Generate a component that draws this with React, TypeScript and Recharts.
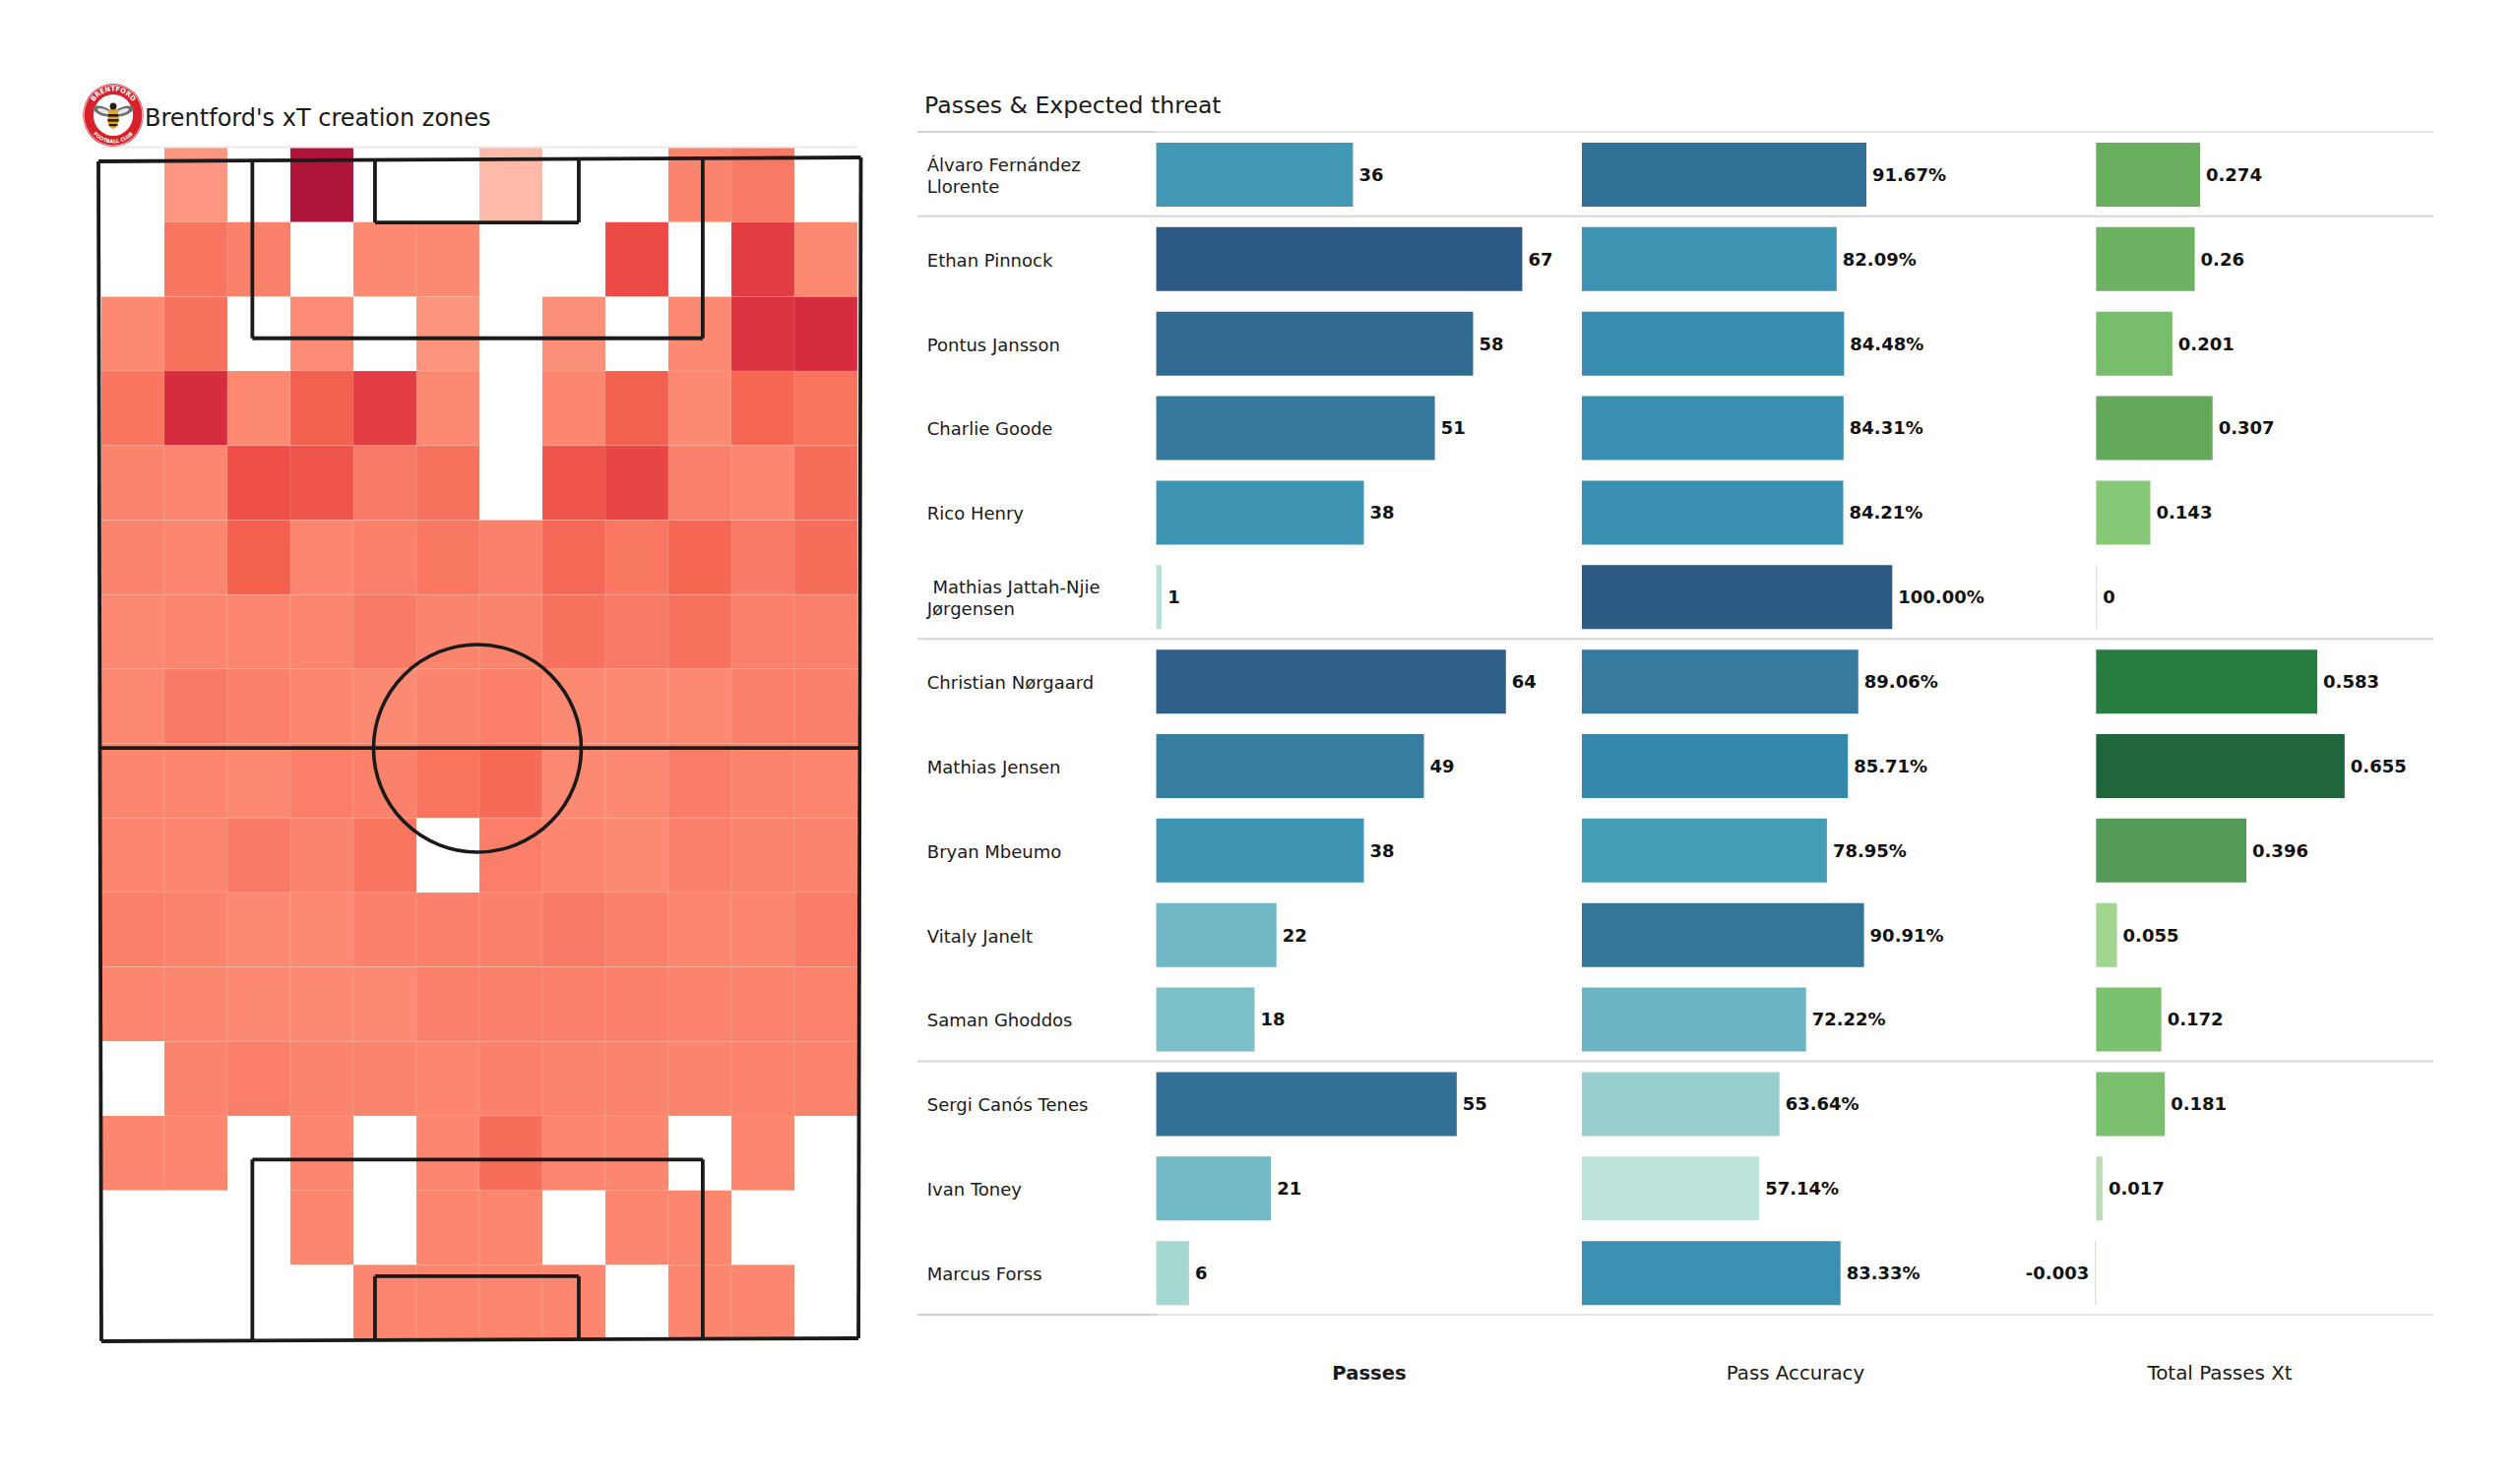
import React from "react";
import {
  BarChart, Bar, Cell, XAxis, YAxis, LabelList, ComposedChart,
  ReferenceLine, ReferenceDot,
} from "recharts";

/* ---------- table data ---------- */
const players = [
  "Álvaro Fernández\nLlorente", "Ethan Pinnock", "Pontus Jansson", "Charlie Goode", "Rico Henry",
  " Mathias Jattah-Njie\nJørgensen", "Christian Nørgaard", "Mathias Jensen", "Bryan Mbeumo",
  "Vitaly Janelt", "Saman Ghoddos", "Sergi Canós Tenes", "Ivan Toney", "Marcus Forss",
];
const passes = [36, 67, 58, 51, 38, 1, 64, 49, 38, 22, 18, 55, 21, 6];
const passAccuracy = [91.67, 82.09, 84.48, 84.31, 84.21, 100, 89.06, 85.71, 78.95, 90.91, 72.22, 63.64, 57.14, 83.33];
const totalPassesXt = [0.274, 0.26, 0.201, 0.307, 0.143, 0, 0.583, 0.655, 0.396, 0.055, 0.172, 0.181, 0.017, -0.003];
const groupBreaks = [1, 6, 11];

/* ---------- heat map data: zone intensity, top row first, 0 = no value ---------- */
const heatRow00 = [0, 20, 0, 100, 0, 0, 10, 0, 0, 30, 38, 0];
const heatRow01 = [0, 40, 33, 0, 25, 26, 0, 0, 58, 0, 65, 25];
const heatRow02 = [25, 42, 0, 24, 0, 21, 0, 23, 0, 25, 68, 70];
const heatRow03 = [40, 70, 26, 50, 65, 25, 0, 28, 50, 26, 48, 41];
const heatRow04 = [30, 28, 56, 54, 38, 42, 0, 54, 60, 33, 28, 44];
const heatRow05 = [30, 28, 50, 28, 34, 39, 33, 47, 39, 48, 37, 45];
const heatRow06 = [26, 28, 28, 28, 38, 30, 30, 42, 38, 42, 34, 34];
const heatRow07 = [25, 38, 33, 28, 26, 30, 35, 25, 25, 25, 33, 33];
const heatRow08 = [28, 28, 25, 35, 33, 41, 46, 26, 25, 36, 30, 28];
const heatRow09 = [28, 28, 38, 30, 40, 0, 35, 28, 25, 34, 30, 30];
const heatRow10 = [34, 30, 25, 25, 33, 33, 33, 37, 34, 28, 28, 36];
const heatRow11 = [28, 27, 25, 25, 25, 34, 34, 34, 33, 32, 32, 32];
const heatRow12 = [0, 30, 35, 30, 30, 28, 33, 30, 30, 30, 32, 32];
const heatRow13 = [28, 28, 0, 28, 0, 28, 45, 28, 28, 0, 28, 0];
const heatRow14 = [0, 0, 0, 28, 0, 28, 28, 0, 28, 28, 0, 0];
const heatRow15 = [0, 0, 0, 0, 28, 28, 28, 28, 0, 28, 28, 0];
const heatRows = [
  heatRow00, heatRow01, heatRow02, heatRow03, heatRow04, heatRow05, heatRow06, heatRow07,
  heatRow08, heatRow09, heatRow10, heatRow11, heatRow12, heatRow13, heatRow14, heatRow15,
];

/* ---------- colour scales ---------- */
type Stop = [number, string];
const heatStops: Stop[] = [
  [10, "#ffb9a9"], [20, "#fd9680"], [25, "#fc8a72"], [28, "#fc866e"], [30, "#fb846c"], [33, "#fb816a"],
  [35, "#fa7e68"], [38, "#f97a64"], [40, "#f8765f"], [43, "#f7705a"], [46, "#f56b58"], [50, "#f4604e"],
  [54, "#ef5549"], [58, "#ec4a47"], [60, "#e84646"], [65, "#e33c42"], [70, "#d62c3e"], [100, "#ae1439"],
];
const blueStops: Stop[] = [
  [0, "#bce4da"], [0.08, "#a8d9d3"], [0.25, "#80c2ca"], [0.32, "#72b9c6"], [0.52, "#429cb6"],
  [0.56, "#3f96b3"], [0.64, "#378eb0"], [0.74, "#367c9f"], [0.82, "#327097"], [0.86, "#316b92"], [1, "#2c5a85"],
];
const greenStops: Stop[] = [
  [0, "#d5dfd2"], [0.017, "#bcdcb6"], [0.055, "#a0d68f"], [0.143, "#87c877"], [0.172, "#7bc26f"],
  [0.201, "#77bd6b"], [0.26, "#6bb161"], [0.307, "#63a85b"], [0.396, "#529a56"], [0.583, "#267b41"],
  [0.655, "#21663a"],
];
function scaleColor(stops: Stop[], v: number): string {
  if (v <= stops[0][0]) return stops[0][1];
  for (let i = 1; i < stops.length; i++) {
    if (v <= stops[i][0]) {
      const [a, ca] = stops[i - 1];
      const [b, cb] = stops[i];
      const t = (v - a) / (b - a);
      const ch = (c: string, o: number) => parseInt(c.slice(o, o + 2), 16);
      const m = [1, 3, 5].map((o) => Math.round(ch(ca, o) + (ch(cb, o) - ch(ca, o)) * t));
      return `rgb(${m[0]},${m[1]},${m[2]})`;
    }
  }
  return stops[stops.length - 1][1];
}

/* ---------- pitch furniture, in pitch units (80 wide, 120 long) ---------- */
type Seg = [[number, number], [number, number]];
const pitchSegments: Seg[] = [
  [[0, 0.4], [0.31, 120.2]], [[79.95, 0], [79.7, 119.9]], [[0, 0.4], [79.95, 0]], [[0.31, 120.2], [79.7, 119.9]],
  [[0.1, 59.96], [79.85, 59.96]],
  [[16.14, 0.3], [16.14, 18.36]], [[63.37, 0.1], [63.37, 18.36]], [[16.14, 18.36], [63.37, 18.36]],
  [[29, 0.3], [29, 6.6]], [[50.37, 0.2], [50.37, 6.6]], [[29, 6.6], [50.37, 6.6]],
  [[16.14, 101.75], [16.14, 120.1]], [[63.37, 101.75], [63.37, 120]], [[16.14, 101.75], [63.37, 101.75]],
  [[29, 113.6], [29, 120.1]], [[50.37, 113.6], [50.37, 120]], [[29, 113.6], [50.37, 113.6]],
];
const pitchDomain = [{ x: 0, y: 0 }, { x: 80, y: 120 }];

const FONT = "'DejaVu Sans', sans-serif";
const rows = players.map((player, i) => ({
  player, passes: passes[i], accuracy: passAccuracy[i], xt: totalPassesXt[i],
}));
const heatData = heatRows[0].map((_, col) => {
  const o: Record<string, number> = { col };
  heatRows.forEach((_r, r) => { o[`r${r}`] = 1; });
  return o;
});

function NameTick(props: any) {
  const lines = String(props.payload.value).split("\n");
  const y = props.y;
  const start = lines.length === 1 ? 0 : -11;
  return (
    <text x={9.8} y={y} fontFamily={FONT} fontSize={18} fill="#1a1a1a" dominantBaseline="central" style={{ whiteSpace: "pre" }}>
      {lines.map((l, i) => (
        <tspan key={i} x={9.8} y={y + start + i * 22} style={{ whiteSpace: "pre" }}>{l}</tspan>
      ))}
    </text>
  );
}

const BAND_TOP = 135;
const BAND_H = 1202;
const labelProps = { fontFamily: FONT, fontSize: 18, fontWeight: 700, fill: "#111" };

function Logo() {
  return (
    <svg width={70} height={70} viewBox="-35 -35 70 70" style={{ position: "absolute", left: 79.5, top: 82 }}>
      <g transform="scale(0.96,1)">
        <defs>
          <path id="lgTop" d="M -24.5 0 A 24.5 24.5 0 0 1 24.5 0" />
          <path id="lgBot" d="M -28.5 0 A 28.5 28.5 0 0 0 28.5 0" />
        </defs>
        <circle r={32} fill="#d8212b" />
        <circle r={31} fill="none" stroke="#fff" strokeWidth={0.7} />
        <circle r={21} fill="#fff" />
        <text fontFamily={FONT} fontSize={7} fontWeight={700} fill="#fff" textAnchor="middle">
          <textPath href="#lgTop" startOffset="50%">BRENTFORD</textPath>
        </text>
        <text fontFamily={FONT} fontSize={5.2} fontWeight={700} fill="#fff" textAnchor="middle">
          <textPath href="#lgBot" startOffset="50%">FOOTBALL CLUB</textPath>
        </text>
        <ellipse cx={-11} cy={-4} rx={11} ry={4.5} fill="#6f6f6f" transform="rotate(18 -11 -4)" />
        <ellipse cx={11} cy={-4} rx={11} ry={4.5} fill="#6f6f6f" transform="rotate(-18 11 -4)" />
        <ellipse cx={-10} cy={-4} rx={7} ry={2.2} fill="#e8e8e8" transform="rotate(18 -10 -4)" />
        <ellipse cx={10} cy={-4} rx={7} ry={2.2} fill="#e8e8e8" transform="rotate(-18 10 -4)" />
        <ellipse cx={0} cy={3} rx={6} ry={11} fill="#e0a526" />
        <rect x={-5.5} y={-1} width={11} height={2.6} fill="#2a2016" />
        <rect x={-5.8} y={4} width={11.6} height={2.6} fill="#2a2016" />
        <rect x={-4.6} y={9} width={9.2} height={2.2} fill="#2a2016" />
        <circle cy={-9} r={3.6} fill="#2a2016" />
      </g>
    </svg>
  );
}

const abs = (left: number, top: number): React.CSSProperties => ({ position: "absolute", left, top });
const textBase: React.CSSProperties = { position: "absolute", fontFamily: FONT, color: "#1a1a1a", whiteSpace: "pre", lineHeight: 1 };

export default function App() {
  const sepData = [{ x: 0, y: 0 }, { x: 1, y: 14 }];
  return (
    <div style={{ position: "absolute", left: 0, top: 0, width: 2560, height: 1504, background: "#fff", overflow: "hidden", fontFamily: FONT }}>
      {/* heat map */}
      <div style={abs(103, 150)}>
        <BarChart width={768} height={1211} data={heatData} margin={{ top: 0, right: 0, bottom: 0, left: 0 }} barCategoryGap={0}>
          <XAxis dataKey="col" type="category" hide />
          <YAxis type="number" domain={[0, 16]} reversed hide />
          {heatRows.map((row, r) => (
            <Bar key={r} dataKey={`r${r}`} stackId="heat" isAnimationActive={false} strokeWidth={1} stroke="#ffffff" strokeOpacity={0.1}>
              {row.map((v, c) => (
                <Cell key={c} fill={v === 0 ? "#ffffff" : scaleColor(heatStops, v)} stroke={v === 0 ? "none" : "#ffffff"} />
              ))}
            </Bar>
          ))}
        </BarChart>
      </div>
      {/* pitch lines */}
      <div style={abs(96, 146)}>
        <ComposedChart width={783} height={1219} data={pitchDomain} margin={{ top: 14, right: 4, bottom: 4, left: 4 }}>
          <XAxis dataKey="x" type="number" domain={[0, 80]} hide />
          <YAxis dataKey="y" type="number" domain={[0, 120]} reversed hide />
          <ReferenceLine
            segment={[{ x: 0.3, y: -1.05 }, { x: 79.6, y: -1.05 }]}
            stroke="#e9e9e9" strokeWidth={2} ifOverflow="visible"
          />
          {pitchSegments.map((s, i) => (
            <ReferenceLine
              key={i}
              segment={[{ x: s[0][0], y: s[0][1] }, { x: s[1][0], y: s[1][1] }]}
              stroke="#1a1a1a" strokeWidth={3.8} ifOverflow="visible"
            />
          ))}
          <ReferenceDot x={39.74} y={60} r={105.5} fill="none" stroke="#1a1a1a" strokeWidth={3.6} ifOverflow="visible" />
        </ComposedChart>
      </div>

      {/* separators */}
      <div style={abs(932, 134.4 - 4)}>
        <ComposedChart width={1540} height={BAND_H + 8} data={sepData} margin={{ top: 4, right: 0, bottom: 4, left: 0 }}>
          <XAxis dataKey="x" type="number" domain={[0, 1]} hide />
          <YAxis dataKey="y" type="number" domain={[0, 14]} reversed hide />
          <ReferenceLine y={0} stroke="#e6e6e6" strokeWidth={2} />
          <ReferenceLine y={14} stroke="#e2e2e2" strokeWidth={2} />
          <ReferenceLine segment={[{ x: 0, y: 0 }, { x: 0.1575, y: 0 }]} stroke="#d4d4d4" strokeWidth={2} />
          <ReferenceLine segment={[{ x: 0, y: 14 }, { x: 0.1575, y: 14 }]} stroke="#cfcfcf" strokeWidth={2} />
          {groupBreaks.map((b) => (
            <ReferenceLine key={b} y={b} stroke="#d6d6d6" strokeWidth={2} />
          ))}
        </ComposedChart>
      </div>

      {/* passes */}
      <div style={abs(932, BAND_TOP)}>
        <BarChart layout="vertical" width={242.6 + 444} height={BAND_H} data={rows} margin={{ top: 0, right: 0, bottom: 0, left: 0 }}>
          <XAxis type="number" domain={[0, 80]} hide />
          <YAxis type="category" dataKey="player" width={242.6} interval={0} axisLine={false} tickLine={false} tick={<NameTick />} />
          <Bar dataKey="passes" barSize={65} isAnimationActive={false}>
            {passes.map((v, i) => <Cell key={i} fill={scaleColor(blueStops, v / 67)} />)}
            <LabelList dataKey="passes" position="right" offset={6} {...labelProps} />
          </Bar>
        </BarChart>
      </div>

      {/* pass accuracy */}
      <div style={abs(1607.3, BAND_TOP)}>
        <BarChart layout="vertical" width={441.4} height={BAND_H} data={rows} margin={{ top: 0, right: 0, bottom: 0, left: 0 }}>
          <XAxis type="number" domain={[0, 140]} hide />
          <YAxis type="category" dataKey="player" hide />
          <Bar dataKey="accuracy" barSize={65} isAnimationActive={false}>
            {passAccuracy.map((v, i) => <Cell key={i} fill={scaleColor(blueStops, (v - 57.14) / (100 - 57.14))} />)}
            <LabelList dataKey="accuracy" position="right" offset={6} formatter={(v: any) => `${Number(v).toFixed(2)}%`} {...labelProps} />
          </Bar>
        </BarChart>
      </div>

      {/* xT */}
      <div style={abs(2033.4, BAND_TOP)}>
        <BarChart layout="vertical" width={424} height={BAND_H} data={rows} margin={{ top: 0, right: 0, bottom: 0, left: 0 }}>
          <XAxis type="number" domain={[-0.25, 0.85]} hide />
          <YAxis type="category" dataKey="player" hide />
          <Bar dataKey="xt" barSize={65} minPointSize={1} isAnimationActive={false}>
            {totalPassesXt.map((v, i) => <Cell key={i} fill={scaleColor(greenStops, v)} />)}
            <LabelList dataKey="xt" position="right" offset={6} {...labelProps} />
          </Bar>
        </BarChart>
      </div>

      {/* titles and column headers */}
      <Logo />
      <div style={{ ...textBase, left: 147, top: 108, fontSize: 24 }}>Brentford's xT creation zones</div>
      <div style={{ ...textBase, left: 939, top: 95.5, fontSize: 23.6 }}>Passes & Expected threat</div>
      <div style={{ ...textBase, left: 1391, top: 1386, fontSize: 19.6, fontWeight: 700, transform: "translateX(-50%)" }}>Passes</div>
      <div style={{ ...textBase, left: 1824, top: 1386, fontSize: 19.8, transform: "translateX(-50%)" }}>Pass Accuracy</div>
      <div style={{ ...textBase, left: 2255, top: 1386, fontSize: 19.9, transform: "translateX(-50%)" }}>Total Passes Xt</div>
    </div>
  );
}
